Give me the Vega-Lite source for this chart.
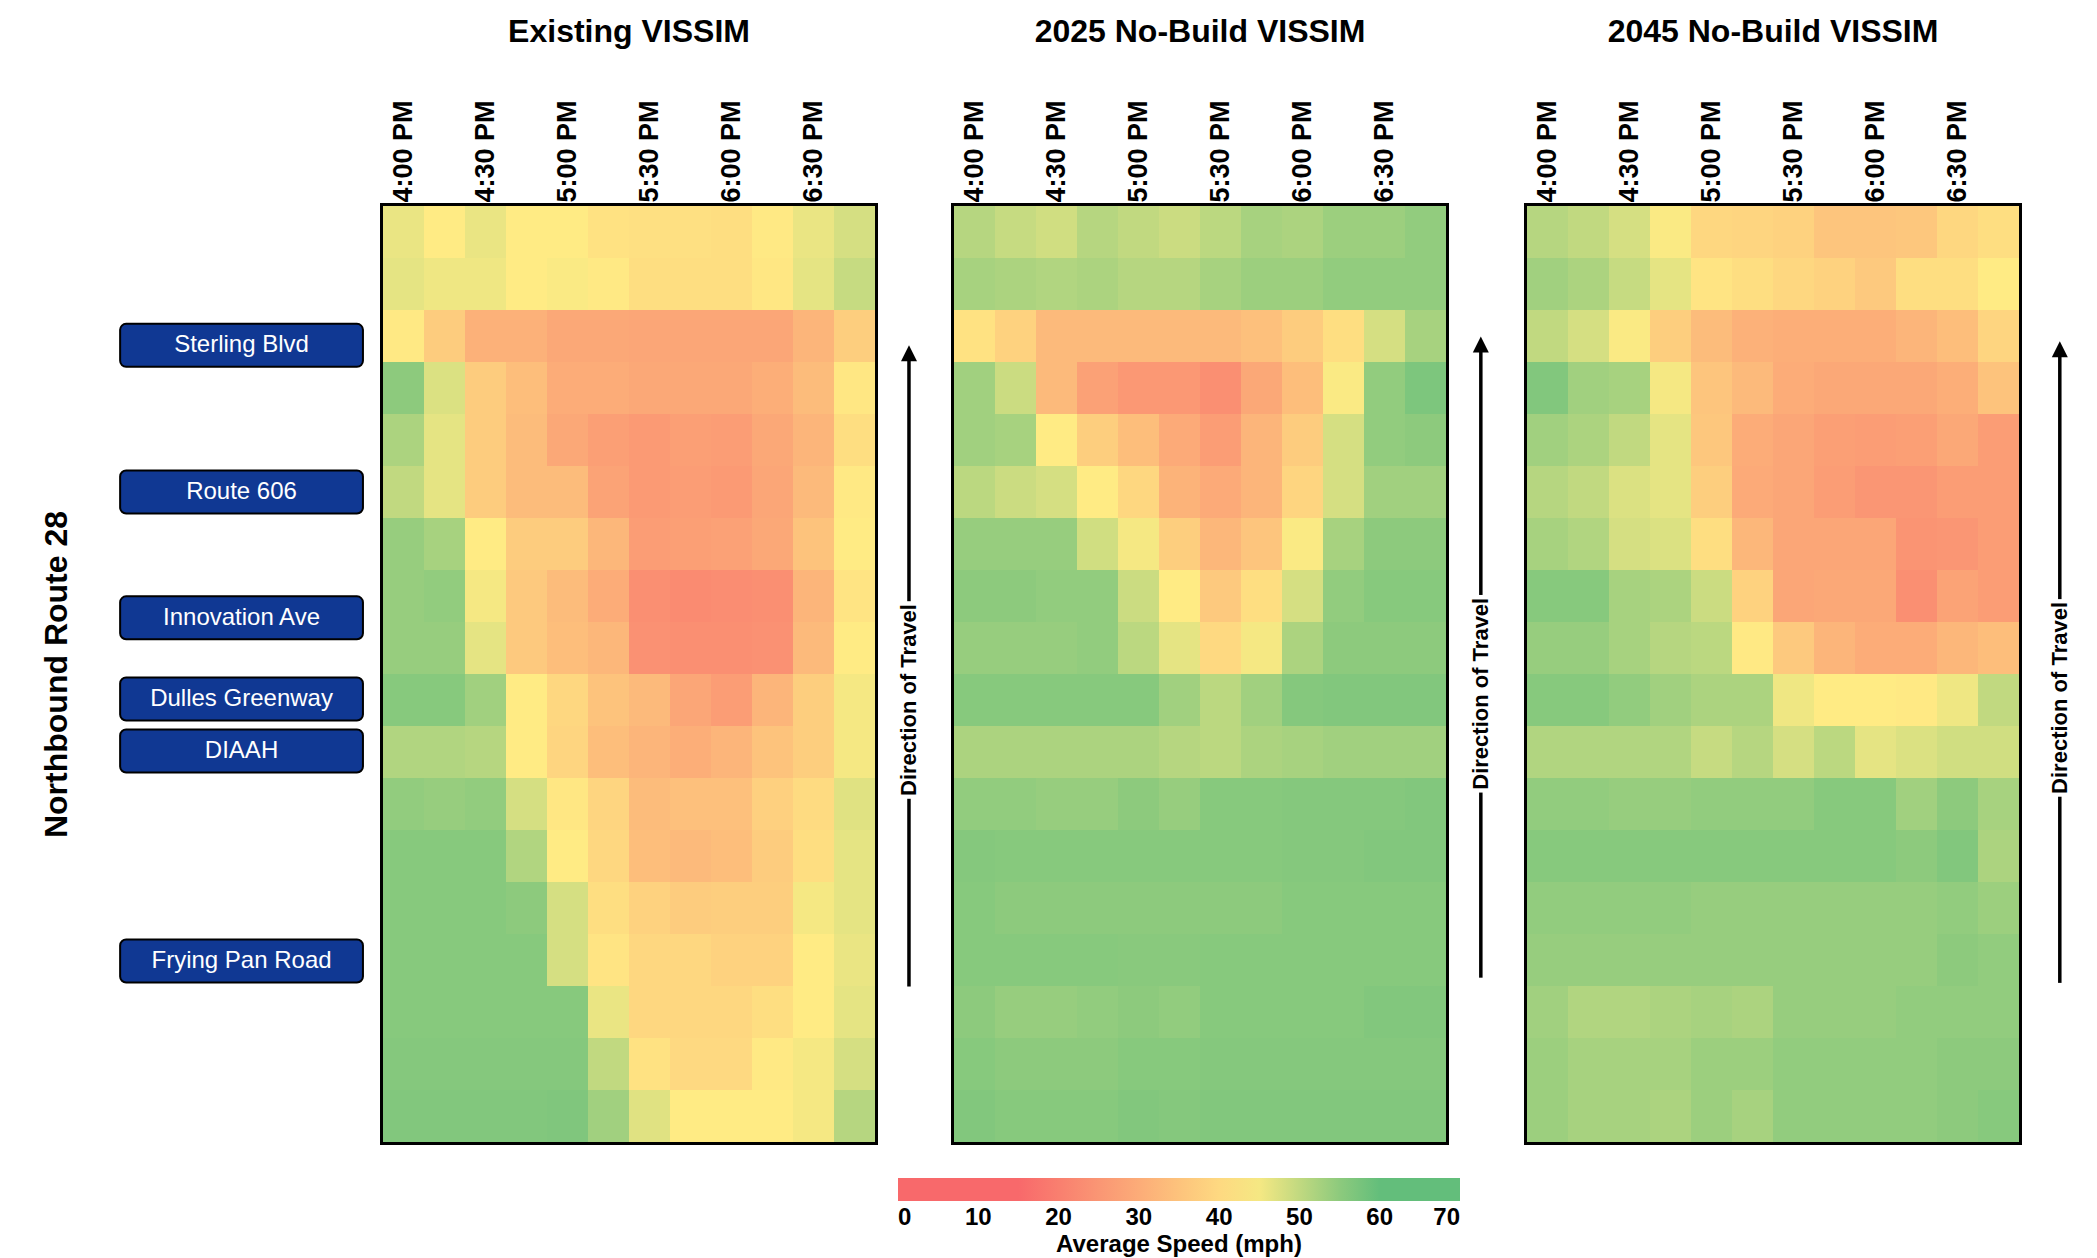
{
  "$schema": "https://vega.github.io/schema/vega-lite/v6.json",
  "background": "white",
  "padding": {"left": 40, "top": 12, "right": 0, "bottom": 130},
  "bounds": "flush",
  "spacing": 0,
  "config": {"view": {"stroke": null}, "font": "Liberation Sans"},
  "datasets": {
    "roads": [
      {"road": "Sterling Blvd", "pos": 2.68},
      {"road": "Route 606", "pos": 5.5},
      {"road": "Innovation Ave", "pos": 7.92},
      {"road": "Dulles Greenway", "pos": 9.48},
      {"road": "DIAAH", "pos": 10.48},
      {"road": "Frying Pan Road", "pos": 14.52}
    ],
    "existing": [
      {"seg":1,"time":"4:00 PM","mph":46},{"seg":1,"time":"4:15 PM","mph":44},{"seg":1,"time":"4:30 PM","mph":46},{"seg":1,"time":"4:45 PM","mph":44},{"seg":1,"time":"5:00 PM","mph":44},{"seg":1,"time":"5:15 PM","mph":42},{"seg":1,"time":"5:30 PM","mph":41.5},{"seg":1,"time":"5:45 PM","mph":41.5},{"seg":1,"time":"6:00 PM","mph":41},{"seg":1,"time":"6:15 PM","mph":43.5},{"seg":1,"time":"6:30 PM","mph":46},{"seg":1,"time":"6:45 PM","mph":48},
      {"seg":2,"time":"4:00 PM","mph":46.5},{"seg":2,"time":"4:15 PM","mph":45.5},{"seg":2,"time":"4:30 PM","mph":45.5},{"seg":2,"time":"4:45 PM","mph":44},{"seg":2,"time":"5:00 PM","mph":44.5},{"seg":2,"time":"5:15 PM","mph":43.5},{"seg":2,"time":"5:30 PM","mph":41},{"seg":2,"time":"5:45 PM","mph":41},{"seg":2,"time":"6:00 PM","mph":41},{"seg":2,"time":"6:15 PM","mph":43},{"seg":2,"time":"6:30 PM","mph":46.5},{"seg":2,"time":"6:45 PM","mph":49.5},
      {"seg":3,"time":"4:00 PM","mph":43.5},{"seg":3,"time":"4:15 PM","mph":37},{"seg":3,"time":"4:30 PM","mph":31},{"seg":3,"time":"4:45 PM","mph":31},{"seg":3,"time":"5:00 PM","mph":29},{"seg":3,"time":"5:15 PM","mph":29},{"seg":3,"time":"5:30 PM","mph":28.5},{"seg":3,"time":"5:45 PM","mph":28.5},{"seg":3,"time":"6:00 PM","mph":28.5},{"seg":3,"time":"6:15 PM","mph":28.5},{"seg":3,"time":"6:30 PM","mph":32},{"seg":3,"time":"6:45 PM","mph":37.5},
      {"seg":4,"time":"4:00 PM","mph":55},{"seg":4,"time":"4:15 PM","mph":47.5},{"seg":4,"time":"4:30 PM","mph":37},{"seg":4,"time":"4:45 PM","mph":34},{"seg":4,"time":"5:00 PM","mph":30},{"seg":4,"time":"5:15 PM","mph":30},{"seg":4,"time":"5:30 PM","mph":29},{"seg":4,"time":"5:45 PM","mph":29},{"seg":4,"time":"6:00 PM","mph":29},{"seg":4,"time":"6:15 PM","mph":30.5},{"seg":4,"time":"6:30 PM","mph":33.5},{"seg":4,"time":"6:45 PM","mph":43},
      {"seg":5,"time":"4:00 PM","mph":52},{"seg":5,"time":"4:15 PM","mph":46.5},{"seg":5,"time":"4:30 PM","mph":37},{"seg":5,"time":"4:45 PM","mph":33.5},{"seg":5,"time":"5:00 PM","mph":29},{"seg":5,"time":"5:15 PM","mph":27},{"seg":5,"time":"5:30 PM","mph":26},{"seg":5,"time":"5:45 PM","mph":27},{"seg":5,"time":"6:00 PM","mph":26.5},{"seg":5,"time":"6:15 PM","mph":29},{"seg":5,"time":"6:30 PM","mph":32},{"seg":5,"time":"6:45 PM","mph":41},
      {"seg":6,"time":"4:00 PM","mph":50},{"seg":6,"time":"4:15 PM","mph":46.5},{"seg":6,"time":"4:30 PM","mph":37},{"seg":6,"time":"4:45 PM","mph":33.5},{"seg":6,"time":"5:00 PM","mph":33.5},{"seg":6,"time":"5:15 PM","mph":28},{"seg":6,"time":"5:30 PM","mph":26},{"seg":6,"time":"5:45 PM","mph":26.5},{"seg":6,"time":"6:00 PM","mph":26},{"seg":6,"time":"6:15 PM","mph":28.5},{"seg":6,"time":"6:30 PM","mph":33},{"seg":6,"time":"6:45 PM","mph":43.5},
      {"seg":7,"time":"4:00 PM","mph":54},{"seg":7,"time":"4:15 PM","mph":52.5},{"seg":7,"time":"4:30 PM","mph":44},{"seg":7,"time":"4:45 PM","mph":37},{"seg":7,"time":"5:00 PM","mph":37},{"seg":7,"time":"5:15 PM","mph":32.5},{"seg":7,"time":"5:30 PM","mph":26.5},{"seg":7,"time":"5:45 PM","mph":27},{"seg":7,"time":"6:00 PM","mph":27.5},{"seg":7,"time":"6:15 PM","mph":29},{"seg":7,"time":"6:30 PM","mph":35},{"seg":7,"time":"6:45 PM","mph":44},
      {"seg":8,"time":"4:00 PM","mph":54},{"seg":8,"time":"4:15 PM","mph":54.5},{"seg":8,"time":"4:30 PM","mph":45},{"seg":8,"time":"4:45 PM","mph":36.5},{"seg":8,"time":"5:00 PM","mph":33.5},{"seg":8,"time":"5:15 PM","mph":30},{"seg":8,"time":"5:30 PM","mph":23.5},{"seg":8,"time":"5:45 PM","mph":22.5},{"seg":8,"time":"6:00 PM","mph":23},{"seg":8,"time":"6:15 PM","mph":23.5},{"seg":8,"time":"6:30 PM","mph":32},{"seg":8,"time":"6:45 PM","mph":42.5},
      {"seg":9,"time":"4:00 PM","mph":54},{"seg":9,"time":"4:15 PM","mph":54},{"seg":9,"time":"4:30 PM","mph":46.5},{"seg":9,"time":"4:45 PM","mph":36.5},{"seg":9,"time":"5:00 PM","mph":34},{"seg":9,"time":"5:15 PM","mph":32.5},{"seg":9,"time":"5:30 PM","mph":24},{"seg":9,"time":"5:45 PM","mph":23.5},{"seg":9,"time":"6:00 PM","mph":23.5},{"seg":9,"time":"6:15 PM","mph":24},{"seg":9,"time":"6:30 PM","mph":33},{"seg":9,"time":"6:45 PM","mph":44},
      {"seg":10,"time":"4:00 PM","mph":55.5},{"seg":10,"time":"4:15 PM","mph":55.5},{"seg":10,"time":"4:30 PM","mph":53},{"seg":10,"time":"4:45 PM","mph":44},{"seg":10,"time":"5:00 PM","mph":39.5},{"seg":10,"time":"5:15 PM","mph":35},{"seg":10,"time":"5:30 PM","mph":33},{"seg":10,"time":"5:45 PM","mph":28.5},{"seg":10,"time":"6:00 PM","mph":26.5},{"seg":10,"time":"6:15 PM","mph":32},{"seg":10,"time":"6:30 PM","mph":37.5},{"seg":10,"time":"6:45 PM","mph":45},
      {"seg":11,"time":"4:00 PM","mph":51.5},{"seg":11,"time":"4:15 PM","mph":51.5},{"seg":11,"time":"4:30 PM","mph":51},{"seg":11,"time":"4:45 PM","mph":44},{"seg":11,"time":"5:00 PM","mph":39},{"seg":11,"time":"5:15 PM","mph":34},{"seg":11,"time":"5:30 PM","mph":32},{"seg":11,"time":"5:45 PM","mph":30.5},{"seg":11,"time":"6:00 PM","mph":32},{"seg":11,"time":"6:15 PM","mph":35},{"seg":11,"time":"6:30 PM","mph":37.5},{"seg":11,"time":"6:45 PM","mph":45},
      {"seg":12,"time":"4:00 PM","mph":54.5},{"seg":12,"time":"4:15 PM","mph":54},{"seg":12,"time":"4:30 PM","mph":54.5},{"seg":12,"time":"4:45 PM","mph":48},{"seg":12,"time":"5:00 PM","mph":43},{"seg":12,"time":"5:15 PM","mph":39},{"seg":12,"time":"5:30 PM","mph":33.5},{"seg":12,"time":"5:45 PM","mph":34.5},{"seg":12,"time":"6:00 PM","mph":34.5},{"seg":12,"time":"6:15 PM","mph":38},{"seg":12,"time":"6:30 PM","mph":40.5},{"seg":12,"time":"6:45 PM","mph":47},
      {"seg":13,"time":"4:00 PM","mph":55.5},{"seg":13,"time":"4:15 PM","mph":55.5},{"seg":13,"time":"4:30 PM","mph":55.5},{"seg":13,"time":"4:45 PM","mph":51.5},{"seg":13,"time":"5:00 PM","mph":44},{"seg":13,"time":"5:15 PM","mph":39.5},{"seg":13,"time":"5:30 PM","mph":34},{"seg":13,"time":"5:45 PM","mph":33},{"seg":13,"time":"6:00 PM","mph":34},{"seg":13,"time":"6:15 PM","mph":37},{"seg":13,"time":"6:30 PM","mph":41},{"seg":13,"time":"6:45 PM","mph":46.5},
      {"seg":14,"time":"4:00 PM","mph":55.5},{"seg":14,"time":"4:15 PM","mph":55.5},{"seg":14,"time":"4:30 PM","mph":55.5},{"seg":14,"time":"4:45 PM","mph":55},{"seg":14,"time":"5:00 PM","mph":48},{"seg":14,"time":"5:15 PM","mph":41},{"seg":14,"time":"5:30 PM","mph":38.5},{"seg":14,"time":"5:45 PM","mph":37},{"seg":14,"time":"6:00 PM","mph":37.5},{"seg":14,"time":"6:15 PM","mph":37.5},{"seg":14,"time":"6:30 PM","mph":45},{"seg":14,"time":"6:45 PM","mph":46.5},
      {"seg":15,"time":"4:00 PM","mph":55.5},{"seg":15,"time":"4:15 PM","mph":55.5},{"seg":15,"time":"4:30 PM","mph":55.5},{"seg":15,"time":"4:45 PM","mph":55.5},{"seg":15,"time":"5:00 PM","mph":48},{"seg":15,"time":"5:15 PM","mph":42.5},{"seg":15,"time":"5:30 PM","mph":39.5},{"seg":15,"time":"5:45 PM","mph":39.5},{"seg":15,"time":"6:00 PM","mph":38.5},{"seg":15,"time":"6:15 PM","mph":38.5},{"seg":15,"time":"6:30 PM","mph":44},{"seg":15,"time":"6:45 PM","mph":46},
      {"seg":16,"time":"4:00 PM","mph":55.5},{"seg":16,"time":"4:15 PM","mph":55.5},{"seg":16,"time":"4:30 PM","mph":55.5},{"seg":16,"time":"4:45 PM","mph":55.5},{"seg":16,"time":"5:00 PM","mph":55.5},{"seg":16,"time":"5:15 PM","mph":46},{"seg":16,"time":"5:30 PM","mph":39.5},{"seg":16,"time":"5:45 PM","mph":39.5},{"seg":16,"time":"6:00 PM","mph":39.5},{"seg":16,"time":"6:15 PM","mph":41},{"seg":16,"time":"6:30 PM","mph":44},{"seg":16,"time":"6:45 PM","mph":46.5},
      {"seg":17,"time":"4:00 PM","mph":55.7},{"seg":17,"time":"4:15 PM","mph":55.7},{"seg":17,"time":"4:30 PM","mph":55.7},{"seg":17,"time":"4:45 PM","mph":55.7},{"seg":17,"time":"5:00 PM","mph":55.7},{"seg":17,"time":"5:15 PM","mph":50},{"seg":17,"time":"5:30 PM","mph":42},{"seg":17,"time":"5:45 PM","mph":40},{"seg":17,"time":"6:00 PM","mph":40},{"seg":17,"time":"6:15 PM","mph":43.5},{"seg":17,"time":"6:30 PM","mph":45},{"seg":17,"time":"6:45 PM","mph":48},
      {"seg":18,"time":"4:00 PM","mph":56},{"seg":18,"time":"4:15 PM","mph":56},{"seg":18,"time":"4:30 PM","mph":56},{"seg":18,"time":"4:45 PM","mph":56},{"seg":18,"time":"5:00 PM","mph":56.2},{"seg":18,"time":"5:15 PM","mph":53},{"seg":18,"time":"5:30 PM","mph":47},{"seg":18,"time":"5:45 PM","mph":44},{"seg":18,"time":"6:00 PM","mph":44},{"seg":18,"time":"6:15 PM","mph":44},{"seg":18,"time":"6:30 PM","mph":45},{"seg":18,"time":"6:45 PM","mph":51}
    ],
    "nobuild2025": [
      {"seg":1,"time":"4:00 PM","mph":51},{"seg":1,"time":"4:15 PM","mph":49.5},{"seg":1,"time":"4:30 PM","mph":48.5},{"seg":1,"time":"4:45 PM","mph":51},{"seg":1,"time":"5:00 PM","mph":50},{"seg":1,"time":"5:15 PM","mph":49},{"seg":1,"time":"5:30 PM","mph":50.5},{"seg":1,"time":"5:45 PM","mph":52.5},{"seg":1,"time":"6:00 PM","mph":52},{"seg":1,"time":"6:15 PM","mph":53.5},{"seg":1,"time":"6:30 PM","mph":53.5},{"seg":1,"time":"6:45 PM","mph":54.5},
      {"seg":2,"time":"4:00 PM","mph":52.5},{"seg":2,"time":"4:15 PM","mph":52},{"seg":2,"time":"4:30 PM","mph":51.5},{"seg":2,"time":"4:45 PM","mph":52},{"seg":2,"time":"5:00 PM","mph":51},{"seg":2,"time":"5:15 PM","mph":51},{"seg":2,"time":"5:30 PM","mph":52.5},{"seg":2,"time":"5:45 PM","mph":53.5},{"seg":2,"time":"6:00 PM","mph":53.5},{"seg":2,"time":"6:15 PM","mph":54.5},{"seg":2,"time":"6:30 PM","mph":54.5},{"seg":2,"time":"6:45 PM","mph":54.5},
      {"seg":3,"time":"4:00 PM","mph":42},{"seg":3,"time":"4:15 PM","mph":38.5},{"seg":3,"time":"4:30 PM","mph":33},{"seg":3,"time":"4:45 PM","mph":33},{"seg":3,"time":"5:00 PM","mph":33},{"seg":3,"time":"5:15 PM","mph":33},{"seg":3,"time":"5:30 PM","mph":33},{"seg":3,"time":"5:45 PM","mph":34.5},{"seg":3,"time":"6:00 PM","mph":37},{"seg":3,"time":"6:15 PM","mph":41},{"seg":3,"time":"6:30 PM","mph":48},{"seg":3,"time":"6:45 PM","mph":52.5},
      {"seg":4,"time":"4:00 PM","mph":53},{"seg":4,"time":"4:15 PM","mph":49},{"seg":4,"time":"4:30 PM","mph":33},{"seg":4,"time":"4:45 PM","mph":27.5},{"seg":4,"time":"5:00 PM","mph":25.5},{"seg":4,"time":"5:15 PM","mph":25.5},{"seg":4,"time":"5:30 PM","mph":23.5},{"seg":4,"time":"5:45 PM","mph":29},{"seg":4,"time":"6:00 PM","mph":34},{"seg":4,"time":"6:15 PM","mph":44.5},{"seg":4,"time":"6:30 PM","mph":54.5},{"seg":4,"time":"6:45 PM","mph":56.5},
      {"seg":5,"time":"4:00 PM","mph":53},{"seg":5,"time":"4:15 PM","mph":52.5},{"seg":5,"time":"4:30 PM","mph":44},{"seg":5,"time":"4:45 PM","mph":37.5},{"seg":5,"time":"5:00 PM","mph":34},{"seg":5,"time":"5:15 PM","mph":29.5},{"seg":5,"time":"5:30 PM","mph":26.5},{"seg":5,"time":"5:45 PM","mph":32},{"seg":5,"time":"6:00 PM","mph":37},{"seg":5,"time":"6:15 PM","mph":48},{"seg":5,"time":"6:30 PM","mph":54.5},{"seg":5,"time":"6:45 PM","mph":55},
      {"seg":6,"time":"4:00 PM","mph":50.5},{"seg":6,"time":"4:15 PM","mph":49},{"seg":6,"time":"4:30 PM","mph":48},{"seg":6,"time":"4:45 PM","mph":44},{"seg":6,"time":"5:00 PM","mph":39.5},{"seg":6,"time":"5:15 PM","mph":31.5},{"seg":6,"time":"5:30 PM","mph":29.5},{"seg":6,"time":"5:45 PM","mph":32},{"seg":6,"time":"6:00 PM","mph":39},{"seg":6,"time":"6:15 PM","mph":48},{"seg":6,"time":"6:30 PM","mph":53},{"seg":6,"time":"6:45 PM","mph":53},
      {"seg":7,"time":"4:00 PM","mph":54},{"seg":7,"time":"4:15 PM","mph":54},{"seg":7,"time":"4:30 PM","mph":54},{"seg":7,"time":"4:45 PM","mph":48.5},{"seg":7,"time":"5:00 PM","mph":45},{"seg":7,"time":"5:15 PM","mph":37.5},{"seg":7,"time":"5:30 PM","mph":32.5},{"seg":7,"time":"5:45 PM","mph":35.5},{"seg":7,"time":"6:00 PM","mph":44.5},{"seg":7,"time":"6:15 PM","mph":52.5},{"seg":7,"time":"6:30 PM","mph":55},{"seg":7,"time":"6:45 PM","mph":55},
      {"seg":8,"time":"4:00 PM","mph":55},{"seg":8,"time":"4:15 PM","mph":55},{"seg":8,"time":"4:30 PM","mph":54.5},{"seg":8,"time":"4:45 PM","mph":54.5},{"seg":8,"time":"5:00 PM","mph":49},{"seg":8,"time":"5:15 PM","mph":44},{"seg":8,"time":"5:30 PM","mph":36.5},{"seg":8,"time":"5:45 PM","mph":41},{"seg":8,"time":"6:00 PM","mph":48},{"seg":8,"time":"6:15 PM","mph":54.5},{"seg":8,"time":"6:30 PM","mph":55.5},{"seg":8,"time":"6:45 PM","mph":55.5},
      {"seg":9,"time":"4:00 PM","mph":54},{"seg":9,"time":"4:15 PM","mph":54},{"seg":9,"time":"4:30 PM","mph":54},{"seg":9,"time":"4:45 PM","mph":54.5},{"seg":9,"time":"5:00 PM","mph":50.5},{"seg":9,"time":"5:15 PM","mph":46.5},{"seg":9,"time":"5:30 PM","mph":40},{"seg":9,"time":"5:45 PM","mph":45},{"seg":9,"time":"6:00 PM","mph":52},{"seg":9,"time":"6:15 PM","mph":55},{"seg":9,"time":"6:30 PM","mph":55},{"seg":9,"time":"6:45 PM","mph":55},
      {"seg":10,"time":"4:00 PM","mph":55.5},{"seg":10,"time":"4:15 PM","mph":55.5},{"seg":10,"time":"4:30 PM","mph":55.5},{"seg":10,"time":"4:45 PM","mph":55.5},{"seg":10,"time":"5:00 PM","mph":55.5},{"seg":10,"time":"5:15 PM","mph":53},{"seg":10,"time":"5:30 PM","mph":50.5},{"seg":10,"time":"5:45 PM","mph":53},{"seg":10,"time":"6:00 PM","mph":55.7},{"seg":10,"time":"6:15 PM","mph":56},{"seg":10,"time":"6:30 PM","mph":56},{"seg":10,"time":"6:45 PM","mph":56},
      {"seg":11,"time":"4:00 PM","mph":52},{"seg":11,"time":"4:15 PM","mph":52},{"seg":11,"time":"4:30 PM","mph":52},{"seg":11,"time":"4:45 PM","mph":52},{"seg":11,"time":"5:00 PM","mph":52},{"seg":11,"time":"5:15 PM","mph":51},{"seg":11,"time":"5:30 PM","mph":50.5},{"seg":11,"time":"5:45 PM","mph":52},{"seg":11,"time":"6:00 PM","mph":52.5},{"seg":11,"time":"6:15 PM","mph":53},{"seg":11,"time":"6:30 PM","mph":53},{"seg":11,"time":"6:45 PM","mph":53},
      {"seg":12,"time":"4:00 PM","mph":54.5},{"seg":12,"time":"4:15 PM","mph":54.5},{"seg":12,"time":"4:30 PM","mph":54},{"seg":12,"time":"4:45 PM","mph":54},{"seg":12,"time":"5:00 PM","mph":55},{"seg":12,"time":"5:15 PM","mph":54},{"seg":12,"time":"5:30 PM","mph":55.5},{"seg":12,"time":"5:45 PM","mph":55.5},{"seg":12,"time":"6:00 PM","mph":55.7},{"seg":12,"time":"6:15 PM","mph":55.7},{"seg":12,"time":"6:30 PM","mph":55.7},{"seg":12,"time":"6:45 PM","mph":56},
      {"seg":13,"time":"4:00 PM","mph":55.7},{"seg":13,"time":"4:15 PM","mph":55.5},{"seg":13,"time":"4:30 PM","mph":55.5},{"seg":13,"time":"4:45 PM","mph":55.5},{"seg":13,"time":"5:00 PM","mph":55.5},{"seg":13,"time":"5:15 PM","mph":55.5},{"seg":13,"time":"5:30 PM","mph":55.5},{"seg":13,"time":"5:45 PM","mph":55.5},{"seg":13,"time":"6:00 PM","mph":55.7},{"seg":13,"time":"6:15 PM","mph":55.7},{"seg":13,"time":"6:30 PM","mph":56},{"seg":13,"time":"6:45 PM","mph":56},
      {"seg":14,"time":"4:00 PM","mph":55.5},{"seg":14,"time":"4:15 PM","mph":55},{"seg":14,"time":"4:30 PM","mph":55},{"seg":14,"time":"4:45 PM","mph":55},{"seg":14,"time":"5:00 PM","mph":55},{"seg":14,"time":"5:15 PM","mph":55},{"seg":14,"time":"5:30 PM","mph":55},{"seg":14,"time":"5:45 PM","mph":55},{"seg":14,"time":"6:00 PM","mph":55.5},{"seg":14,"time":"6:15 PM","mph":55.5},{"seg":14,"time":"6:30 PM","mph":55.5},{"seg":14,"time":"6:45 PM","mph":55.5},
      {"seg":15,"time":"4:00 PM","mph":55.5},{"seg":15,"time":"4:15 PM","mph":55.5},{"seg":15,"time":"4:30 PM","mph":55.5},{"seg":15,"time":"4:45 PM","mph":55.5},{"seg":15,"time":"5:00 PM","mph":55.3},{"seg":15,"time":"5:15 PM","mph":55.3},{"seg":15,"time":"5:30 PM","mph":55.5},{"seg":15,"time":"5:45 PM","mph":55.5},{"seg":15,"time":"6:00 PM","mph":55.5},{"seg":15,"time":"6:15 PM","mph":55.5},{"seg":15,"time":"6:30 PM","mph":55.5},{"seg":15,"time":"6:45 PM","mph":55.5},
      {"seg":16,"time":"4:00 PM","mph":55},{"seg":16,"time":"4:15 PM","mph":54},{"seg":16,"time":"4:30 PM","mph":54},{"seg":16,"time":"4:45 PM","mph":54.5},{"seg":16,"time":"5:00 PM","mph":55},{"seg":16,"time":"5:15 PM","mph":54.5},{"seg":16,"time":"5:30 PM","mph":55.5},{"seg":16,"time":"5:45 PM","mph":55.5},{"seg":16,"time":"6:00 PM","mph":55.5},{"seg":16,"time":"6:15 PM","mph":55.5},{"seg":16,"time":"6:30 PM","mph":56},{"seg":16,"time":"6:45 PM","mph":56},
      {"seg":17,"time":"4:00 PM","mph":55.5},{"seg":17,"time":"4:15 PM","mph":55},{"seg":17,"time":"4:30 PM","mph":55},{"seg":17,"time":"4:45 PM","mph":55},{"seg":17,"time":"5:00 PM","mph":55.5},{"seg":17,"time":"5:15 PM","mph":55.5},{"seg":17,"time":"5:30 PM","mph":55.7},{"seg":17,"time":"5:45 PM","mph":55.7},{"seg":17,"time":"6:00 PM","mph":55.7},{"seg":17,"time":"6:15 PM","mph":55.7},{"seg":17,"time":"6:30 PM","mph":55.7},{"seg":17,"time":"6:45 PM","mph":55.7},
      {"seg":18,"time":"4:00 PM","mph":56},{"seg":18,"time":"4:15 PM","mph":55.5},{"seg":18,"time":"4:30 PM","mph":55.5},{"seg":18,"time":"4:45 PM","mph":55.5},{"seg":18,"time":"5:00 PM","mph":56},{"seg":18,"time":"5:15 PM","mph":55.7},{"seg":18,"time":"5:30 PM","mph":56},{"seg":18,"time":"5:45 PM","mph":56},{"seg":18,"time":"6:00 PM","mph":56},{"seg":18,"time":"6:15 PM","mph":56},{"seg":18,"time":"6:30 PM","mph":56},{"seg":18,"time":"6:45 PM","mph":56}
    ],
    "nobuild2045": [
      {"seg":1,"time":"4:00 PM","mph":51},{"seg":1,"time":"4:15 PM","mph":50},{"seg":1,"time":"4:30 PM","mph":48},{"seg":1,"time":"4:45 PM","mph":44.5},{"seg":1,"time":"5:00 PM","mph":39.5},{"seg":1,"time":"5:15 PM","mph":39},{"seg":1,"time":"5:30 PM","mph":38.5},{"seg":1,"time":"5:45 PM","mph":35.5},{"seg":1,"time":"6:00 PM","mph":35.5},{"seg":1,"time":"6:15 PM","mph":36},{"seg":1,"time":"6:30 PM","mph":39.5},{"seg":1,"time":"6:45 PM","mph":41},
      {"seg":2,"time":"4:00 PM","mph":53},{"seg":2,"time":"4:15 PM","mph":52},{"seg":2,"time":"4:30 PM","mph":49.5},{"seg":2,"time":"4:45 PM","mph":46.5},{"seg":2,"time":"5:00 PM","mph":42.5},{"seg":2,"time":"5:15 PM","mph":41},{"seg":2,"time":"5:30 PM","mph":39.5},{"seg":2,"time":"5:45 PM","mph":38.5},{"seg":2,"time":"6:00 PM","mph":36.5},{"seg":2,"time":"6:15 PM","mph":41},{"seg":2,"time":"6:30 PM","mph":41},{"seg":2,"time":"6:45 PM","mph":44},
      {"seg":3,"time":"4:00 PM","mph":50},{"seg":3,"time":"4:15 PM","mph":48},{"seg":3,"time":"4:30 PM","mph":44.5},{"seg":3,"time":"4:45 PM","mph":37.5},{"seg":3,"time":"5:00 PM","mph":33.5},{"seg":3,"time":"5:15 PM","mph":31},{"seg":3,"time":"5:30 PM","mph":30.5},{"seg":3,"time":"5:45 PM","mph":30.5},{"seg":3,"time":"6:00 PM","mph":30.5},{"seg":3,"time":"6:15 PM","mph":32},{"seg":3,"time":"6:30 PM","mph":34},{"seg":3,"time":"6:45 PM","mph":39},
      {"seg":4,"time":"4:00 PM","mph":56},{"seg":4,"time":"4:15 PM","mph":53},{"seg":4,"time":"4:30 PM","mph":52.5},{"seg":4,"time":"4:45 PM","mph":45},{"seg":4,"time":"5:00 PM","mph":35.5},{"seg":4,"time":"5:15 PM","mph":33},{"seg":4,"time":"5:30 PM","mph":30},{"seg":4,"time":"5:45 PM","mph":29},{"seg":4,"time":"6:00 PM","mph":29},{"seg":4,"time":"6:15 PM","mph":29},{"seg":4,"time":"6:30 PM","mph":30.5},{"seg":4,"time":"6:45 PM","mph":35},
      {"seg":5,"time":"4:00 PM","mph":53},{"seg":5,"time":"4:15 PM","mph":52},{"seg":5,"time":"4:30 PM","mph":50},{"seg":5,"time":"4:45 PM","mph":46.5},{"seg":5,"time":"5:00 PM","mph":36},{"seg":5,"time":"5:15 PM","mph":30},{"seg":5,"time":"5:30 PM","mph":28.5},{"seg":5,"time":"5:45 PM","mph":27},{"seg":5,"time":"6:00 PM","mph":26.5},{"seg":5,"time":"6:15 PM","mph":27},{"seg":5,"time":"6:30 PM","mph":29},{"seg":5,"time":"6:45 PM","mph":26.5},
      {"seg":6,"time":"4:00 PM","mph":51},{"seg":6,"time":"4:15 PM","mph":50},{"seg":6,"time":"4:30 PM","mph":47.5},{"seg":6,"time":"4:45 PM","mph":46.5},{"seg":6,"time":"5:00 PM","mph":37.5},{"seg":6,"time":"5:15 PM","mph":29.5},{"seg":6,"time":"5:30 PM","mph":28.5},{"seg":6,"time":"5:45 PM","mph":26.5},{"seg":6,"time":"6:00 PM","mph":25},{"seg":6,"time":"6:15 PM","mph":25},{"seg":6,"time":"6:30 PM","mph":26.5},{"seg":6,"time":"6:45 PM","mph":26.5},
      {"seg":7,"time":"4:00 PM","mph":52.5},{"seg":7,"time":"4:15 PM","mph":51.5},{"seg":7,"time":"4:30 PM","mph":48},{"seg":7,"time":"4:45 PM","mph":47.5},{"seg":7,"time":"5:00 PM","mph":41},{"seg":7,"time":"5:15 PM","mph":32.5},{"seg":7,"time":"5:30 PM","mph":28.5},{"seg":7,"time":"5:45 PM","mph":28.5},{"seg":7,"time":"6:00 PM","mph":28.5},{"seg":7,"time":"6:15 PM","mph":24.5},{"seg":7,"time":"6:30 PM","mph":25},{"seg":7,"time":"6:45 PM","mph":26.5},
      {"seg":8,"time":"4:00 PM","mph":55.5},{"seg":8,"time":"4:15 PM","mph":55.5},{"seg":8,"time":"4:30 PM","mph":52.5},{"seg":8,"time":"4:45 PM","mph":52},{"seg":8,"time":"5:00 PM","mph":49},{"seg":8,"time":"5:15 PM","mph":38.5},{"seg":8,"time":"5:30 PM","mph":28.5},{"seg":8,"time":"5:45 PM","mph":29},{"seg":8,"time":"6:00 PM","mph":29},{"seg":8,"time":"6:15 PM","mph":23.5},{"seg":8,"time":"6:30 PM","mph":28},{"seg":8,"time":"6:45 PM","mph":26.5},
      {"seg":9,"time":"4:00 PM","mph":54},{"seg":9,"time":"4:15 PM","mph":54},{"seg":9,"time":"4:30 PM","mph":52.5},{"seg":9,"time":"4:45 PM","mph":51},{"seg":9,"time":"5:00 PM","mph":50.5},{"seg":9,"time":"5:15 PM","mph":43.5},{"seg":9,"time":"5:30 PM","mph":36.5},{"seg":9,"time":"5:45 PM","mph":32},{"seg":9,"time":"6:00 PM","mph":30},{"seg":9,"time":"6:15 PM","mph":30},{"seg":9,"time":"6:30 PM","mph":32.5},{"seg":9,"time":"6:45 PM","mph":34},
      {"seg":10,"time":"4:00 PM","mph":55.5},{"seg":10,"time":"4:15 PM","mph":55.5},{"seg":10,"time":"4:30 PM","mph":54.5},{"seg":10,"time":"4:45 PM","mph":53},{"seg":10,"time":"5:00 PM","mph":52},{"seg":10,"time":"5:15 PM","mph":52},{"seg":10,"time":"5:30 PM","mph":45.5},{"seg":10,"time":"5:45 PM","mph":44},{"seg":10,"time":"6:00 PM","mph":44},{"seg":10,"time":"6:15 PM","mph":43.5},{"seg":10,"time":"6:30 PM","mph":45.5},{"seg":10,"time":"6:45 PM","mph":50},
      {"seg":11,"time":"4:00 PM","mph":51.5},{"seg":11,"time":"4:15 PM","mph":51.5},{"seg":11,"time":"4:30 PM","mph":51.5},{"seg":11,"time":"4:45 PM","mph":51.5},{"seg":11,"time":"5:00 PM","mph":49.5},{"seg":11,"time":"5:15 PM","mph":51},{"seg":11,"time":"5:30 PM","mph":48},{"seg":11,"time":"5:45 PM","mph":50.5},{"seg":11,"time":"6:00 PM","mph":46.5},{"seg":11,"time":"6:15 PM","mph":47.5},{"seg":11,"time":"6:30 PM","mph":48.5},{"seg":11,"time":"6:45 PM","mph":48.5},
      {"seg":12,"time":"4:00 PM","mph":54.5},{"seg":12,"time":"4:15 PM","mph":54.5},{"seg":12,"time":"4:30 PM","mph":54},{"seg":12,"time":"4:45 PM","mph":54},{"seg":12,"time":"5:00 PM","mph":54.5},{"seg":12,"time":"5:15 PM","mph":54.5},{"seg":12,"time":"5:30 PM","mph":54.5},{"seg":12,"time":"5:45 PM","mph":55.5},{"seg":12,"time":"6:00 PM","mph":55.5},{"seg":12,"time":"6:15 PM","mph":53},{"seg":12,"time":"6:30 PM","mph":55},{"seg":12,"time":"6:45 PM","mph":52.5},
      {"seg":13,"time":"4:00 PM","mph":55.5},{"seg":13,"time":"4:15 PM","mph":55.5},{"seg":13,"time":"4:30 PM","mph":55.5},{"seg":13,"time":"4:45 PM","mph":55.5},{"seg":13,"time":"5:00 PM","mph":55.5},{"seg":13,"time":"5:15 PM","mph":55.5},{"seg":13,"time":"5:30 PM","mph":55.5},{"seg":13,"time":"5:45 PM","mph":55.5},{"seg":13,"time":"6:00 PM","mph":55.5},{"seg":13,"time":"6:15 PM","mph":55},{"seg":13,"time":"6:30 PM","mph":56},{"seg":13,"time":"6:45 PM","mph":52},
      {"seg":14,"time":"4:00 PM","mph":54.5},{"seg":14,"time":"4:15 PM","mph":54.5},{"seg":14,"time":"4:30 PM","mph":54.5},{"seg":14,"time":"4:45 PM","mph":54.5},{"seg":14,"time":"5:00 PM","mph":54},{"seg":14,"time":"5:15 PM","mph":54},{"seg":14,"time":"5:30 PM","mph":54},{"seg":14,"time":"5:45 PM","mph":54},{"seg":14,"time":"6:00 PM","mph":54},{"seg":14,"time":"6:15 PM","mph":54},{"seg":14,"time":"6:30 PM","mph":54.5},{"seg":14,"time":"6:45 PM","mph":53.5},
      {"seg":15,"time":"4:00 PM","mph":54},{"seg":15,"time":"4:15 PM","mph":54},{"seg":15,"time":"4:30 PM","mph":54},{"seg":15,"time":"4:45 PM","mph":54},{"seg":15,"time":"5:00 PM","mph":54},{"seg":15,"time":"5:15 PM","mph":54},{"seg":15,"time":"5:30 PM","mph":54},{"seg":15,"time":"5:45 PM","mph":54},{"seg":15,"time":"6:00 PM","mph":54},{"seg":15,"time":"6:15 PM","mph":54},{"seg":15,"time":"6:30 PM","mph":55},{"seg":15,"time":"6:45 PM","mph":54.5},
      {"seg":16,"time":"4:00 PM","mph":53},{"seg":16,"time":"4:15 PM","mph":51.5},{"seg":16,"time":"4:30 PM","mph":51.5},{"seg":16,"time":"4:45 PM","mph":52},{"seg":16,"time":"5:00 PM","mph":52.5},{"seg":16,"time":"5:15 PM","mph":52},{"seg":16,"time":"5:30 PM","mph":54},{"seg":16,"time":"5:45 PM","mph":54},{"seg":16,"time":"6:00 PM","mph":54},{"seg":16,"time":"6:15 PM","mph":54.5},{"seg":16,"time":"6:30 PM","mph":54.5},{"seg":16,"time":"6:45 PM","mph":54.5},
      {"seg":17,"time":"4:00 PM","mph":53.5},{"seg":17,"time":"4:15 PM","mph":52.5},{"seg":17,"time":"4:30 PM","mph":52.5},{"seg":17,"time":"4:45 PM","mph":52.5},{"seg":17,"time":"5:00 PM","mph":53.5},{"seg":17,"time":"5:15 PM","mph":53.5},{"seg":17,"time":"5:30 PM","mph":54.5},{"seg":17,"time":"5:45 PM","mph":54.5},{"seg":17,"time":"6:00 PM","mph":54.5},{"seg":17,"time":"6:15 PM","mph":54.5},{"seg":17,"time":"6:30 PM","mph":55},{"seg":17,"time":"6:45 PM","mph":55},
      {"seg":18,"time":"4:00 PM","mph":53.5},{"seg":18,"time":"4:15 PM","mph":52.5},{"seg":18,"time":"4:30 PM","mph":52.5},{"seg":18,"time":"4:45 PM","mph":52},{"seg":18,"time":"5:00 PM","mph":53.5},{"seg":18,"time":"5:15 PM","mph":52.5},{"seg":18,"time":"5:30 PM","mph":54.5},{"seg":18,"time":"5:45 PM","mph":54.5},{"seg":18,"time":"6:00 PM","mph":54.5},{"seg":18,"time":"6:15 PM","mph":54.5},{"seg":18,"time":"6:30 PM","mph":55},{"seg":18,"time":"6:45 PM","mph":55.5}
    ]
  },
  "hconcat": [
    {
      "width": 271,
      "height": 936,
      "data": {"name": "roads"},
      "encoding": {
        "y": {"field": "pos", "type": "quantitative", "scale": {"domain": [0, 18], "reverse": true, "nice": false, "zero": false},
              "axis": {"title": "Northbound Route 28", "labels": false, "ticks": false, "domain": false, "grid": false, "titleFontSize": 32, "titleFontWeight": "bold", "titleColor": "black", "titlePadding": 39}},
        "y2": {"field": "pos"}
      },
      "layer": [
        {
          "mark": {"type": "rect", "fill": "#103893", "stroke": "black", "strokeWidth": 2, "cornerRadius": 6, "yOffset": -21.5, "y2Offset": 21.5},
          "encoding": {
            "x": {"datum": 0.03, "type": "quantitative", "scale": {"domain": [0, 1]}, "axis": null},
            "x2": {"datum": 0.926}
          }
        },
        {
          "mark": {"type": "text", "color": "white", "fontSize": 24, "align": "center", "baseline": "middle"},
          "encoding": {
            "x": {"datum": 0.478, "type": "quantitative", "scale": {"domain": [0, 1]}, "axis": null},
            "y2": null,
            "text": {"field": "road"}
          }
        }
      ]
    },
    {
      "width": 492,
      "height": 936,
      "view": {"stroke": "black", "strokeWidth": 6},
      "title": {"text": "Existing VISSIM", "fontSize": 32, "fontWeight": "bold", "color": "black", "anchor": "middle", "frame": "group", "baseline": "alphabetic", "offset": 26},
      "data": {"name": "existing"},
      "mark": {"type": "rect"},
      "encoding": {
        "x": {"field": "time", "type": "ordinal",
              "sort": ["4:00 PM","4:15 PM","4:30 PM","4:45 PM","5:00 PM","5:15 PM","5:30 PM","5:45 PM","6:00 PM","6:15 PM","6:30 PM","6:45 PM"],
              "scale": {"paddingInner": 0, "paddingOuter": 0},
              "axis": {"orient": "top", "values": ["4:00 PM","4:30 PM","5:00 PM","5:30 PM","6:00 PM","6:30 PM"], "labelAngle": -90, "labelFontSize": 27, "labelFontWeight": "bold", "labelColor": "black", "labelPadding": 4, "ticks": false, "tickSize": 0, "domain": false, "title": null, "labelOverlap": false}},
        "y": {"field": "seg", "type": "ordinal", "scale": {"paddingInner": 0, "paddingOuter": 0}, "axis": null},
        "color": {"field": "mph", "type": "quantitative",
                  "scale": {"domain": [0, 15, 44, 59, 70], "range": ["#F8696B", "#F8696B", "#FFEB84", "#63BE7B", "#63BE7B"], "interpolate": "rgb", "clamp": true, "nice": false, "zero": false},
                  "legend": {"orient": "none", "legendX": 786, "legendY": 972, "direction": "horizontal", "gradientLength": 562, "gradientThickness": 23, "gradientStrokeWidth": 0, "values": [0, 10, 20, 30, 40, 50, 60, 70], "labelFontSize": 24, "labelFontWeight": "bold", "labelColor": "black", "labelOffset": 5, "labelOverlap": false, "title": "Average Speed (mph)", "titleLimit": 1000, "titleOrient": "bottom", "titleAnchor": "middle", "titleFontSize": 24, "titleFontWeight": "bold", "titleColor": "black", "titlePadding": 3, "padding": 0}}
      }
    },
    {
      "width": 79,
      "height": 936,
      "data": {"values": [{"note": "Direction of Travel"}]},
      "encoding": {"x": {"datum": 0.43, "type": "quantitative", "scale": {"domain": [0, 1]}, "axis": null}},
      "layer": [
        {"mark": {"type": "rule", "color": "black", "strokeWidth": 3.5},
         "encoding": {"y": {"datum": 2.9, "type": "quantitative", "scale": {"domain": [0, 18], "reverse": true, "nice": false, "zero": false}, "axis": null}, "y2": {"datum": 7.6}}},
        {"mark": {"type": "rule", "color": "black", "strokeWidth": 3.5},
         "encoding": {"y": {"datum": 11.4, "type": "quantitative", "axis": null}, "y2": {"datum": 15.01}}},
        {"mark": {"type": "point", "shape": "M0,0L1,2L-1,2Z", "size": 256, "filled": true, "color": "black", "opacity": 1, "strokeWidth": 0},
         "encoding": {"y": {"datum": 2.68, "type": "quantitative", "axis": null}}},
        {"mark": {"type": "text", "angle": 270, "fontSize": 22, "fontWeight": "bold", "color": "black", "align": "center", "baseline": "middle"},
         "encoding": {"y": {"datum": 9.5, "type": "quantitative", "axis": null}, "text": {"field": "note"}}}
      ]
    },
    {
      "width": 492,
      "height": 936,
      "view": {"stroke": "black", "strokeWidth": 6},
      "title": {"text": "2025 No-Build VISSIM", "fontSize": 32, "fontWeight": "bold", "color": "black", "anchor": "middle", "frame": "group", "baseline": "alphabetic", "offset": 26},
      "data": {"name": "nobuild2025"},
      "mark": {"type": "rect"},
      "encoding": {
        "x": {"field": "time", "type": "ordinal",
              "sort": ["4:00 PM","4:15 PM","4:30 PM","4:45 PM","5:00 PM","5:15 PM","5:30 PM","5:45 PM","6:00 PM","6:15 PM","6:30 PM","6:45 PM"],
              "scale": {"paddingInner": 0, "paddingOuter": 0},
              "axis": {"orient": "top", "values": ["4:00 PM","4:30 PM","5:00 PM","5:30 PM","6:00 PM","6:30 PM"], "labelAngle": -90, "labelFontSize": 27, "labelFontWeight": "bold", "labelColor": "black", "labelPadding": 4, "ticks": false, "tickSize": 0, "domain": false, "title": null, "labelOverlap": false}},
        "y": {"field": "seg", "type": "ordinal", "scale": {"paddingInner": 0, "paddingOuter": 0}, "axis": null},
        "color": {"field": "mph", "type": "quantitative",
                  "scale": {"domain": [0, 15, 44, 59, 70], "range": ["#F8696B", "#F8696B", "#FFEB84", "#63BE7B", "#63BE7B"], "interpolate": "rgb", "clamp": true, "nice": false, "zero": false}}
      }
    },
    {
      "width": 81,
      "height": 936,
      "data": {"values": [{"note": "Direction of Travel"}]},
      "encoding": {"x": {"datum": 0.43, "type": "quantitative", "scale": {"domain": [0, 1]}, "axis": null}},
      "layer": [
        {"mark": {"type": "rule", "color": "black", "strokeWidth": 3.5},
         "encoding": {"y": {"datum": 2.73, "type": "quantitative", "scale": {"domain": [0, 18], "reverse": true, "nice": false, "zero": false}, "axis": null}, "y2": {"datum": 7.48}}},
        {"mark": {"type": "rule", "color": "black", "strokeWidth": 3.5},
         "encoding": {"y": {"datum": 11.28, "type": "quantitative", "axis": null}, "y2": {"datum": 14.84}}},
        {"mark": {"type": "point", "shape": "M0,0L1,2L-1,2Z", "size": 256, "filled": true, "color": "black", "opacity": 1, "strokeWidth": 0},
         "encoding": {"y": {"datum": 2.51, "type": "quantitative", "axis": null}}},
        {"mark": {"type": "text", "angle": 270, "fontSize": 22, "fontWeight": "bold", "color": "black", "align": "center", "baseline": "middle"},
         "encoding": {"y": {"datum": 9.38, "type": "quantitative", "axis": null}, "text": {"field": "note"}}}
      ]
    },
    {
      "width": 492,
      "height": 936,
      "view": {"stroke": "black", "strokeWidth": 6},
      "title": {"text": "2045 No-Build VISSIM", "fontSize": 32, "fontWeight": "bold", "color": "black", "anchor": "middle", "frame": "group", "baseline": "alphabetic", "offset": 26},
      "data": {"name": "nobuild2045"},
      "mark": {"type": "rect"},
      "encoding": {
        "x": {"field": "time", "type": "ordinal",
              "sort": ["4:00 PM","4:15 PM","4:30 PM","4:45 PM","5:00 PM","5:15 PM","5:30 PM","5:45 PM","6:00 PM","6:15 PM","6:30 PM","6:45 PM"],
              "scale": {"paddingInner": 0, "paddingOuter": 0},
              "axis": {"orient": "top", "values": ["4:00 PM","4:30 PM","5:00 PM","5:30 PM","6:00 PM","6:30 PM"], "labelAngle": -90, "labelFontSize": 27, "labelFontWeight": "bold", "labelColor": "black", "labelPadding": 4, "ticks": false, "tickSize": 0, "domain": false, "title": null, "labelOverlap": false}},
        "y": {"field": "seg", "type": "ordinal", "scale": {"paddingInner": 0, "paddingOuter": 0}, "axis": null},
        "color": {"field": "mph", "type": "quantitative",
                  "scale": {"domain": [0, 15, 44, 59, 70], "range": ["#F8696B", "#F8696B", "#FFEB84", "#63BE7B", "#63BE7B"], "interpolate": "rgb", "clamp": true, "nice": false, "zero": false}}
      }
    },
    {
      "width": 80,
      "height": 936,
      "data": {"values": [{"note": "Direction of Travel"}]},
      "encoding": {"x": {"datum": 0.51, "type": "quantitative", "scale": {"domain": [0, 1]}, "axis": null}},
      "layer": [
        {"mark": {"type": "rule", "color": "black", "strokeWidth": 3.5},
         "encoding": {"y": {"datum": 2.82, "type": "quantitative", "scale": {"domain": [0, 18], "reverse": true, "nice": false, "zero": false}, "axis": null}, "y2": {"datum": 7.56}}},
        {"mark": {"type": "rule", "color": "black", "strokeWidth": 3.5},
         "encoding": {"y": {"datum": 11.36, "type": "quantitative", "axis": null}, "y2": {"datum": 14.94}}},
        {"mark": {"type": "point", "shape": "M0,0L1,2L-1,2Z", "size": 256, "filled": true, "color": "black", "opacity": 1, "strokeWidth": 0},
         "encoding": {"y": {"datum": 2.6, "type": "quantitative", "axis": null}}},
        {"mark": {"type": "text", "angle": 270, "fontSize": 22, "fontWeight": "bold", "color": "black", "align": "center", "baseline": "middle"},
         "encoding": {"y": {"datum": 9.46, "type": "quantitative", "axis": null}, "text": {"field": "note"}}}
      ]
    }
  ]
}
